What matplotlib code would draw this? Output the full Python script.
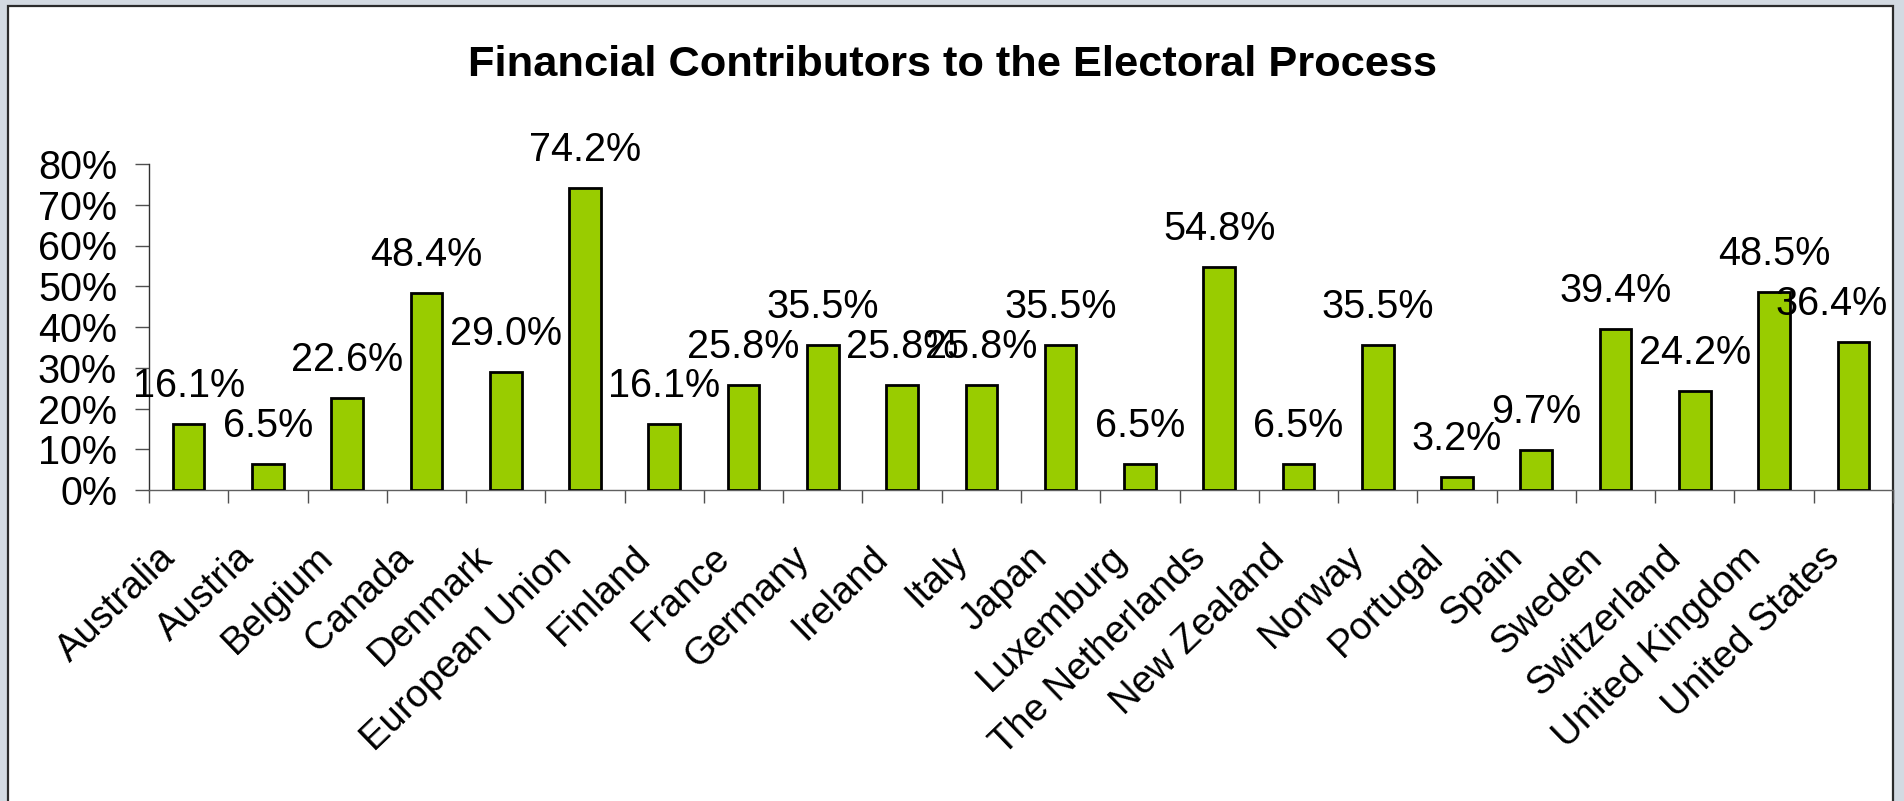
import matplotlib
matplotlib.use("Agg")
import matplotlib.pyplot as plt
from matplotlib.patches import Rectangle
from matplotlib.transforms import ScaledTranslation
import numpy as np

title = "Financial Contributors to the Electoral Process"
countries = ["Australia", "Austria", "Belgium", "Canada", "Denmark", "European Union",
             "Finland", "France", "Germany", "Ireland", "Italy", "Japan", "Luxemburg",
             "The Netherlands", "New Zealand", "Norway", "Portugal", "Spain", "Sweden",
             "Switzerland", "United Kingdom", "United States"]
values = [16.1, 6.5, 22.6, 48.4, 29.0, 74.2, 16.1, 25.8, 35.5, 25.8, 25.8, 35.5, 6.5,
          54.8, 6.5, 35.5, 3.2, 9.7, 39.4, 24.2, 48.5, 36.4]
yticks = [0, 10, 20, 30, 40, 50, 60, 70, 80]

W, H = 1904, 801
DPI = 100
FS = 28.5
plt.rcParams['font.family'] = ['Liberation Sans', 'DejaVu Sans']
fig = plt.figure(figsize=(W / DPI, H / DPI), dpi=DPI, facecolor='#d3dae2')

# white panel with dark border
panel = Rectangle((8 / W, -0.05), (1893 - 8) / W, (H - 6) / H + 0.05,
                  transform=fig.transFigure, facecolor='white', edgecolor='#2b2b2b',
                  linewidth=1.6, zorder=-10)
fig.patches.append(panel)

left, right, top, bottom = 149, 1893, 164, 490
ax = fig.add_axes([left / W, (H - bottom) / H, (right - left) / W, (bottom - top) / H])
ax.set_facecolor('none')
ax.set_zorder(5)

n = len(countries)
x = np.arange(n)
ax.bar(x, values, width=0.4, color='#99cc00', edgecolor='black', linewidth=2.0, zorder=3)
ax.set_xlim(-0.5, n - 0.5)
ax.set_ylim(0, 80)

anns = []
for xi, v in zip(x, values):
    a = ax.annotate(f"{v:.1f}%", (xi, v), xytext=(0, 27), textcoords='offset pixels',
                    ha='center', va='baseline', fontsize=FS, color='black', zorder=4,
                    annotation_clip=False)
    anns.append(a)

for s in ['top', 'right']:
    ax.spines[s].set_visible(False)
ax.spines['left'].set_color('#303030')
ax.spines['bottom'].set_color('#606060')
ax.spines['left'].set_linewidth(1.0)
ax.spines['bottom'].set_linewidth(1.0)

ax.set_yticks(yticks)
ax.set_yticklabels([f"{t}%" for t in yticks], fontsize=FS)
ax.tick_params(axis='y', direction='out', length=10, width=1.0, color='#505050', pad=13)

# category boundary ticks
ax.set_xticks(np.arange(n + 1) - 0.5, minor=True)
ax.tick_params(axis='x', which='minor', direction='out', length=9.5, width=1.0, color='#505050')
ax.set_xticks(x)
ax.set_xticklabels(countries, rotation=44, ha='right', va='center',
                   rotation_mode='anchor', fontsize=27.5)
ax.tick_params(axis='x', which='major', length=0, pad=45)
off = ScaledTranslation(-19 / DPI, 0, fig.dpi_scale_trans)
for lbl in ax.get_xticklabels():
    lbl.set_transform(lbl.get_transform() + off)

fig.text(953 / W, (H - 65) / H, title, ha='center', va='center', fontsize=31.2,
         fontweight='bold', color='black')

# keep data labels inside the chart panel (as the original chart does)
fig.canvas.draw()
renderer = fig.canvas.get_renderer()
limit = 1888
for a in anns:
    bb = a.get_window_extent(renderer)
    if bb.x1 > limit:
        a.xyann = (-(bb.x1 - limit), 27)

fig.savefig('out.png', dpi=DPI, facecolor=fig.get_facecolor())
